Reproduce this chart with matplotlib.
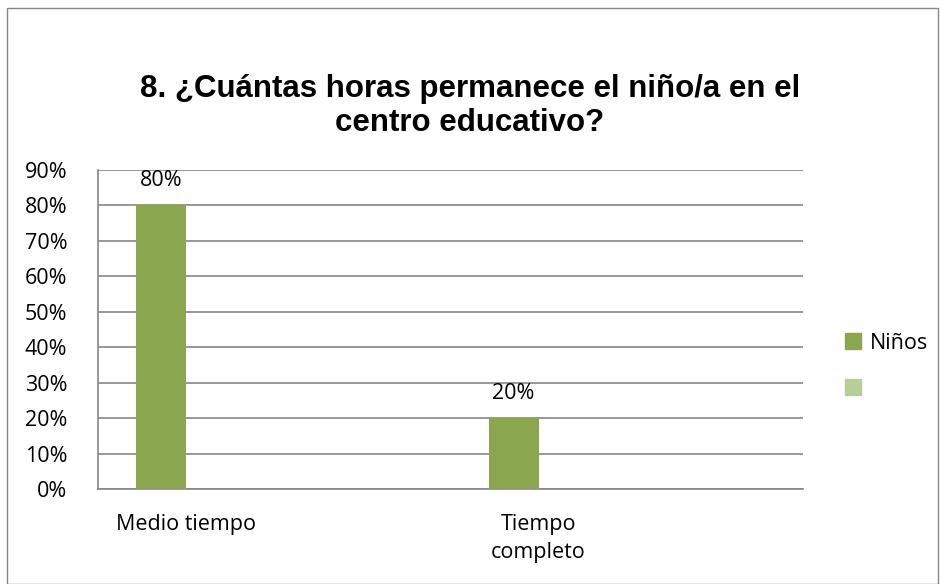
import numpy as np
import matplotlib.pyplot as plt
from matplotlib.patches import Rectangle, Patch

# 4 categories on the axis, 2nd and 4th are blank in the source sheet
categories = ["Medio tiempo", "", "Tiempo\ncompleto", ""]
ninos = [0.80, np.nan, 0.20, np.nan]
serie2 = [0.0, 0.0, 0.0, 0.0]
series_names = ["Niños", " "]
yticks = [0.0, 0.1, 0.2, 0.3, 0.4, 0.5, 0.6, 0.7, 0.8, 0.9]

c_dark = "#8AA64E"
c_light = "#B8CE97"
grid_c = "#868686"
fs = 15.5

fig = plt.figure(figsize=(9.4, 5.84), dpi=100)
ax = fig.add_axes([98 / 940, 1 - 489 / 584, 705 / 940, 319 / 584])

x = np.arange(len(categories))
bw = 0.284
bars = ax.bar(x - bw / 2, ninos, width=bw, color=c_dark, zorder=3)
ax.bar(x + bw / 2, serie2, width=bw, color=c_light, zorder=3)

for xi, v in zip(x, ninos):
    if np.isnan(v):
        continue
    ax.text(xi - bw / 2, v + 0.04, f"{v:.0%}", ha="center", va="bottom",
            fontsize=fs, family="Open Sans")

ax.set_xlim(-0.5, len(categories) - 0.5)
ax.set_ylim(0, 0.9)
ax.set_yticks(yticks)
ax.set_yticklabels([f"{t:.0%}" for t in yticks], fontsize=fs, family="Open Sans")
ax.set_xticks(x)
ax.set_xticklabels(categories, fontsize=fs, family="Open Sans", linespacing=1.45)
ax.tick_params(axis="x", length=0, pad=18)
ax.tick_params(axis="y", length=0, pad=22)
ax.yaxis.grid(True, color=grid_c, linewidth=1.2, zorder=0)
ax.set_axisbelow(True)
for s in ["top", "right"]:
    ax.spines[s].set_visible(False)
for s in ["left", "bottom"]:
    ax.spines[s].set_color(grid_c)
    ax.spines[s].set_linewidth(1.2)

handles = [Patch(color=c_dark), Patch(color=c_light)]
fig.legend(handles, series_names, loc="center left", bbox_to_anchor=(826 / 940, 1 - 366 / 584),
           frameon=False, prop={"family": "Open Sans", "size": fs},
           handlelength=0.72, handleheight=0.72, labelspacing=1.15, handletextpad=0.4)

fig.text(0.5, 1 - 106 / 584, "8. ¿Cuántas horas permanece el niño/a en el\ncentro educativo?",
         ha="center", va="center", fontsize=22.5, fontweight="bold", family="Liberation Sans",
         linespacing=1.15)

fig.patches.append(Rectangle((7 / 940, 0.5 / 584), 931 / 940, 576 / 584, transform=fig.transFigure,
                             fill=False, edgecolor=grid_c, linewidth=1))

fig.savefig("out.png", dpi=100)
